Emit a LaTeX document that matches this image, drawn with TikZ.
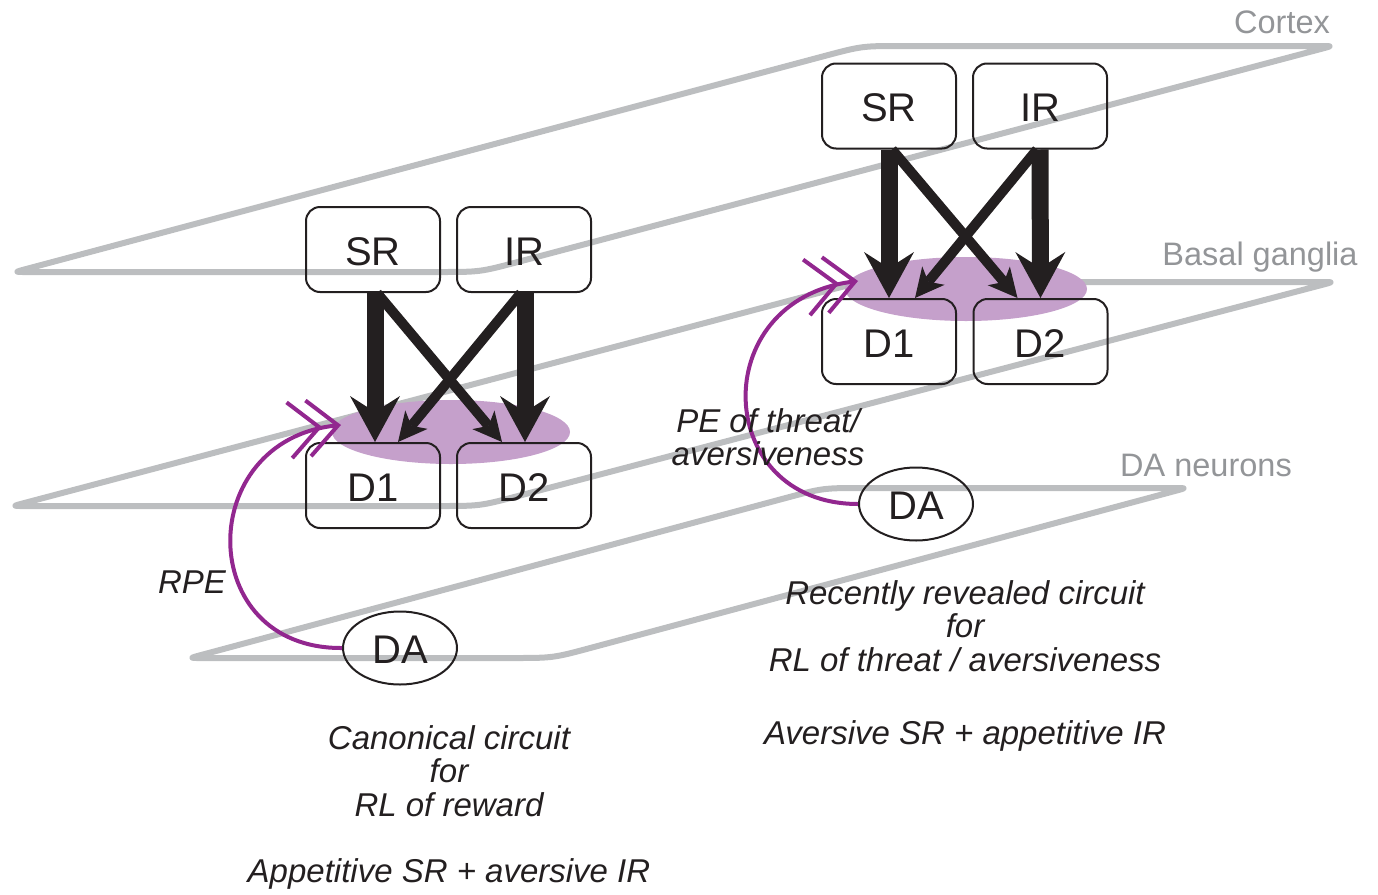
\documentclass[tikz,border=0pt]{standalone}
\usepackage{fontspec}
\setmainfont{Liberation Sans}
\usetikzlibrary{arrows.meta,shapes.geometric,calc}
\definecolor{ink}{HTML}{231F20}
\definecolor{planegray}{HTML}{BCBEC0}
\definecolor{layergray}{HTML}{939598}
\definecolor{dasignal}{HTML}{92278F}
\definecolor{dafill}{HTML}{C5A0CB}

% closed parallelogram with soft obtuse corners and small rounding at the acute tips
\newcommand\planeoutline[4]{%
  \draw[plane] ($(#1)!0.5!(#2)$)
    -- ($(#2)!40pt!(#1)$) .. controls (#2) .. ($(#2)!40pt!(#3)$)
    -- ($(#3)!10pt!(#2)$) .. controls (#3) .. ($(#3)!10pt!(#4)$)
    -- ($(#4)!40pt!(#3)$) .. controls (#4) .. ($(#4)!40pt!(#1)$)
    -- ($(#1)!10pt!(#4)$) .. controls (#1) .. ($(#1)!10pt!(#2)$)
    -- cycle;}

\begin{document}
\begin{tikzpicture}[x=1pt,y=-1pt,
  plane/.style={draw=planegray,line width=6pt,line join=round},
  layername/.style={text=layergray,font=\fontsize{32.5}{36}\selectfont,inner sep=0pt,anchor=base},
  box/.style={draw=ink,line width=2pt,rounded corners=14pt,minimum width=134pt,minimum height=85pt,inner sep=0pt,text=ink,font=\fontsize{40}{46}\selectfont,text height=31pt,text depth=0pt},
  danode/.style={draw=ink,line width=2pt,ellipse,minimum width=114pt,minimum height=73pt,inner sep=0pt,text=ink,font=\fontsize{40}{46}\selectfont,text height=31pt,text depth=0pt},
  strongarrow/.style={draw=ink,line width=17pt,-{Stealth[length=46pt,width=50pt,inset=16pt,line width=0pt]}},
  weakarrow/.style={draw=ink,line width=10pt,-{Stealth[length=29pt,width=29pt,inset=8pt,line width=0pt]}},
  signal/.style={draw=dasignal,line width=4pt,-{Straight Barb[length=30pt,width=56pt,sep=-16pt]Straight Barb[length=30pt,width=56pt]}},
  caption/.style={text=ink,font=\fontsize{33}{33}\selectfont\itshape,inner sep=0pt,anchor=base}]

\useasboundingbox (0,0) rectangle (1378,894);

% --- the three brain layers ---
\coordinate (cx1) at (15,272);
\coordinate (cx2) at (480,272);
\coordinate (cx3) at (1332,46);
\coordinate (cx4) at (862,46);
\coordinate (bg1) at (13,506);
\coordinate (bg2) at (480,506);
\coordinate (bg3) at (1333,282);
\coordinate (bg4) at (860,282);
\coordinate (dn1) at (190,658);
\coordinate (dn2) at (553,658);
\coordinate (dn3) at (1186,488);
\coordinate (dn4) at (823,488);
\planeoutline{cx1}{cx2}{cx3}{cx4}
\planeoutline{bg1}{bg2}{bg3}{bg4}
\planeoutline{dn1}{dn2}{dn3}{dn4}

\node[layername] (cortexname) at (1282,33) {Cortex};
\node[layername] (bgname) at (1260,265) {Basal ganglia};
\node[layername] (dnname) at (1206,476) {DA neurons};

% --- dopamine target zones in the striatum ---
\fill[dafill] (451,432) ellipse [x radius=119pt, y radius=32pt];
\fill[dafill] (966,289) ellipse [x radius=121pt, y radius=32pt];

% --- canonical circuit ---
\node[box] (srL) at (373,249.5) {SR};
\node[box] (irL) at (524,249.5) {IR};
\node[box] (d1L) at (373,485.5) {D1};
\node[box] (d2L) at (524,485.5) {D2};
\node[danode] (daL) at (400,648) {DA};

\draw[strongarrow] ([xshift=2pt]srL.south) -- ([xshift=2pt]d1L.north);
\draw[strongarrow] ([xshift=1pt]irL.south) -- ([xshift=1pt]d2L.north);
\draw[weakarrow] ([xshift=4pt]srL.south) -- ([xshift=-22pt]d2L.north);
\draw[weakarrow] ([xshift=-3pt]irL.south) -- ([xshift=25pt]d1L.north);

\coordinate (rpeL) at (341,425);
\draw[signal] (daL.west) .. controls (194,649) and (194,440) .. (rpeL);
\node[caption] (rpe) at (192,593) {RPE};

% --- threat / aversiveness circuit ---
\node[box] (srR) at (889,106) {SR};
\node[box] (irR) at (1040,106) {IR};
\node[box] (d1R) at (889,341.5) {D1};
\node[box] (d2R) at (1040.5,341.5) {D2};
\node[danode] (daR) at (916,504) {DA};

\draw[strongarrow] (srR.south) -- (d1R.north);
\draw[strongarrow] (irR.south) -- (d2R.north);
\draw[weakarrow] ([xshift=3pt]srR.south) -- ([xshift=-23pt]d2R.north);
\draw[weakarrow] ([xshift=-3pt]irR.south) -- ([xshift=26pt]d1R.north);

\coordinate (peR) at (858,281);
\draw[signal] (daR.west) .. controls (713,504) and (705,300) .. (peR);
\node[caption] (pe) at (768,432) {\fontsize{33}{31}\selectfont\begin{tabular}[t]{@{}c@{}}PE of threat/\\aversiveness\end{tabular}};

% --- captions ---
\node[caption] (capL) at (449,749) {\begin{tabular}[t]{@{}c@{}}Canonical circuit\\for\\RL of reward\end{tabular}};
\node[caption] (capL2) at (449,882) {Appetitive SR + aversive IR};
\node[caption] (capR) at (965,604) {\begin{tabular}[t]{@{}c@{}}Recently revealed circuit\\for\\RL of threat / aversiveness\end{tabular}};
\node[caption] (capR2) at (965,744) {Aversive SR + appetitive IR};
\end{tikzpicture}
\end{document}
